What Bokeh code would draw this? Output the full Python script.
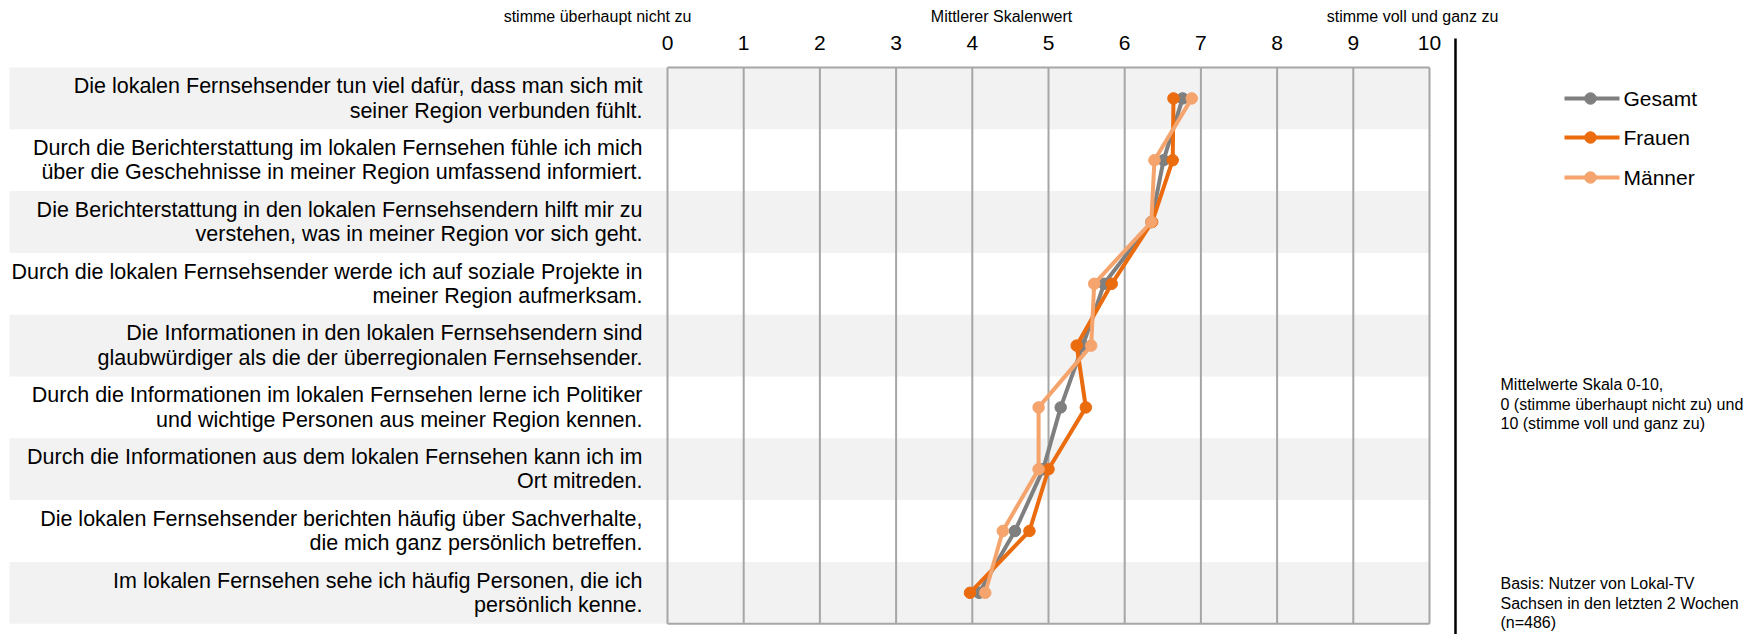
from bokeh.plotting import figure
from bokeh.models import Range1d
from bokeh.core.properties import value
from bokeh.embed import file_html
from bokeh.resources import INLINE

# ---------------- data ----------------
statements_line1 = [
    "Die lokalen Fernsehsender tun viel dafür, dass man sich mit",
    "Durch die Berichterstattung im lokalen Fernsehen fühle ich mich",
    "Die Berichterstattung in den lokalen Fernsehsendern hilft mir zu",
    "Durch die lokalen Fernsehsender werde ich auf soziale Projekte in",
    "Die Informationen in den lokalen Fernsehsendern sind",
    "Durch die Informationen im lokalen Fernsehen lerne ich Politiker",
    "Durch die Informationen aus dem lokalen Fernsehen kann ich im",
    "Die lokalen Fernsehsender berichten häufig über Sachverhalte,",
    "Im lokalen Fernsehen sehe ich häufig Personen, die ich",
]
statements_line2 = [
    "seiner Region verbunden fühlt.",
    "über die Geschehnisse in meiner Region umfassend informiert.",
    "verstehen, was in meiner Region vor sich geht.",
    "meiner Region aufmerksam.",
    "glaubwürdiger als die der überregionalen Fernsehsender.",
    "und wichtige Personen aus meiner Region kennen.",
    "Ort mitreden.",
    "die mich ganz persönlich betreffen.",
    "persönlich kenne.",
]
gesamt = [6.76, 6.51, 6.35, 5.73, 5.45, 5.16, 4.93, 4.56, 4.09]
frauen = [6.64, 6.63, 6.36, 5.83, 5.37, 5.49, 5.00, 4.75, 3.97]
maenner = [6.88, 6.39, 6.35, 5.60, 5.56, 4.87, 4.87, 4.40, 4.17]
series_names = ["Gesamt", "Frauen", "Männer"]
tick_values = [0, 1, 2, 3, 4, 5, 6, 7, 8, 9, 10]
tick_labels = ["0", "1", "2", "3", "4", "5", "6", "7", "8", "9", "10"]
caption_left = "stimme überhaupt nicht zu"
caption_mid = "Mittlerer Skalenwert"
caption_right = "stimme voll und ganz zu"
note_top = ["Mittelwerte Skala 0-10,", "0 (stimme überhaupt nicht zu) und", "10 (stimme voll und ganz zu)"]
note_bottom = ["Basis: Nutzer von Lokal-TV", "Sachsen in den letzten 2 Wochen", "(n=486)"]

# ---------------- layout helpers ----------------
W, H = 1752, 634
X0, UNIT = 667.0, 76.2      # px of value 0, px per unit
Y0, ROW = 67.0, 61.8        # px of plot top, px per row
FONT = value("Liberation Sans")
COLORS = ["#7F7F7F", "#EB6B0F", "#F4A46C"]


def px_x(page_x):
    return (page_x - X0) / UNIT


def px_y(page_y):
    return (page_y - Y0) / ROW - 0.5


n = len(gesamt)
rows = list(range(n))

p = figure(width=W, height=H, output_backend="svg", toolbar_location=None,
           x_range=Range1d(px_x(0), px_x(W)),
           y_range=Range1d(px_y(H), px_y(0)),
           min_border=0)
p.xaxis.visible = False
p.yaxis.visible = False
p.grid.visible = False
p.outline_line_color = None
p.background_fill_color = "white"
p.border_fill_color = "white"

# alternating row bands (label area + plot area)
band_rows = [r for r in rows if r % 2 == 0]
p.quad(left=[px_x(9)] * len(band_rows), right=[tick_values[-1]] * len(band_rows),
       top=[r - 0.5 for r in band_rows], bottom=[r + 0.5 for r in band_rows],
       fill_color="#F2F2F2", line_color=None)

# vertical grid lines and top/bottom border
p.segment(x0=tick_values, x1=tick_values, y0=[-0.5] * len(tick_values), y1=[n - 0.5] * len(tick_values),
          line_color="#A6A6A6", line_width=2)
p.segment(x0=[tick_values[0]] * 2, x1=[tick_values[-1]] * 2, y0=[-0.5, n - 0.5], y1=[-0.5, n - 0.5],
          line_color="#A6A6A6", line_width=2)

# tick labels on top
p.text(x=tick_values, y=[px_y(42)] * len(tick_values), text=tick_labels,
       text_font=FONT, text_font_size="21px", text_align="center", text_baseline="middle",
       text_color="black")

# captions
p.text(x=[px_x(597), px_x(1001), px_x(1412)], y=[px_y(16)] * 3,
       text=[caption_left, caption_mid, caption_right],
       text_font=FONT, text_font_size="16px", text_align="center", text_baseline="middle",
       text_color="black")

# statement labels
off = 12.25 / ROW
p.text(x=[px_x(642)] * n, y=[r - off for r in rows], text=statements_line1,
       text_font=FONT, text_font_size="21.5px", text_align="right", text_baseline="middle",
       text_color="black")
p.text(x=[px_x(642)] * n, y=[r + off for r in rows], text=statements_line2,
       text_font=FONT, text_font_size="21.5px", text_align="right", text_baseline="middle",
       text_color="black")

# data series
for vals, col in zip([gesamt, frauen, maenner], COLORS):
    p.line(x=vals, y=rows, line_color=col, line_width=4)
    p.scatter(x=vals, y=rows, size=11.5, fill_color=col, line_color=col)

# black separator line
p.segment(x0=[px_x(1455)], x1=[px_x(1455)], y0=[px_y(38)], y1=[px_y(660)],
          line_color="black", line_width=2.5)

# legend (manual)
leg_y = [98, 137, 177]
for name, col, yy in zip(series_names, COLORS, leg_y):
    y = px_y(yy)
    p.line(x=[px_x(1564), px_x(1619)], y=[y, y], line_color=col, line_width=4)
    p.scatter(x=[px_x(1590)], y=[y], size=11.5, fill_color=col, line_color=col)
    p.text(x=[px_x(1623)], y=[y], text=[name], text_font=FONT, text_font_size="21px",
           text_align="left", text_baseline="middle", text_color="black")

# notes
p.text(x=[px_x(1500)] * 3, y=[px_y(v) for v in (384, 403.5, 423)], text=note_top,
       text_font=FONT, text_font_size="16px", text_align="left", text_baseline="middle",
       text_color="black")
p.text(x=[px_x(1500)] * 3, y=[px_y(v) for v in (583, 602.5, 622)], text=note_bottom,
       text_font=FONT, text_font_size="16px", text_align="left", text_baseline="middle",
       text_color="black")

open("out.html", "w").write(file_html(p, INLINE))
